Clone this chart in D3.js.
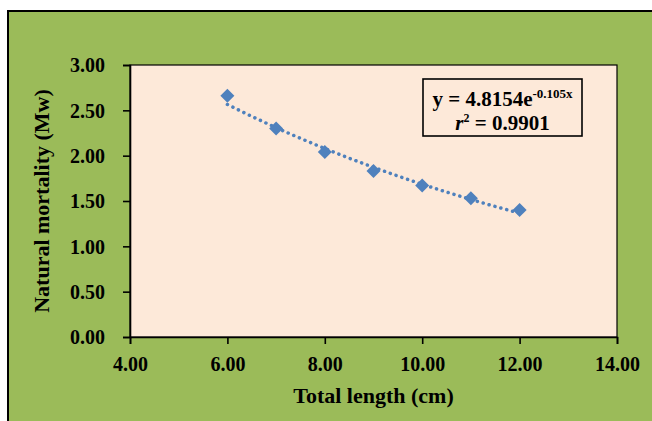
<!DOCTYPE html>
<html>
<head>
<meta charset="utf-8">
<script src="https://cdn.jsdelivr.net/npm/d3@7"></script>
<style>
  body { margin: 0; background: #fff; }
  svg text { font-family: "Liberation Serif", "Times New Roman", serif; font-weight: bold; }
</style>
</head>
<body>
<svg class="chart" width="652" height="421"></svg>
<script>
// data
var lengths = [6, 7, 8, 9, 10, 11, 12];
var mortality = [2.66, 2.30, 2.04, 1.83, 1.67, 1.53, 1.40];
var xTicks = [4, 6, 8, 10, 12, 14];
var yTicks = [0, 0.5, 1, 1.5, 2, 2.5, 3];
// fitted trend y = a * e^(b x)
var trendCoef = [4.8154, -0.105];

var svg = d3.select("svg.chart");
var margin = {top: 65, right: 35, bottom: 84, left: 130};
var width = 652 - margin.left - margin.right,
    height = 421 - margin.top - margin.bottom;

// outer panel
svg.append("rect")
  .attr("x", 8).attr("y", 11)
  .attr("width", 660).attr("height", 420)
  .attr("fill", "#9BBB59")
  .attr("stroke", "#000").attr("stroke-width", 2);

var g = svg.append("g").attr("transform", "translate(" + margin.left + "," + margin.top + ")");

var x = d3.scaleLinear().domain([4, 14]).range([0, width]);
var y = d3.scaleLinear().domain([0, 3]).range([height, 0]);

g.append("rect")
  .attr("width", width).attr("height", height)
  .attr("fill", "#FDE9D9")
  .attr("stroke", "#000").attr("stroke-width", 1.2);

// axes
var xAxis = g.append("g")
  .attr("transform", "translate(0," + height + ")")
  .call(d3.axisBottom(x).tickValues(xTicks).tickSize(7).tickPadding(11)
    .tickFormat(function(d) { return d.toFixed(2); }));
var yAxis = g.append("g")
  .call(d3.axisLeft(y).tickValues(yTicks).tickSize(7).tickPadding(18)
    .tickFormat(function(d) { return d.toFixed(2); }));

[xAxis, yAxis].forEach(function(a) {
  a.attr("font-size", null).attr("font-family", null);
  a.select(".domain").attr("stroke", "#000").attr("stroke-width", 1.6);
  a.selectAll(".tick line").attr("stroke", "#000").attr("stroke-width", 1.6);
  a.selectAll(".tick text")
    .attr("fill", "#000")
    .style("font-size", "20px");
});
xAxis.selectAll(".tick text").attr("dy", "0.8em");
yAxis.selectAll(".tick text").attr("dy", "0.34em");

// trendline
var trendX = d3.range(lengths[0], lengths[lengths.length - 1] + 0.001, 0.1);
var trend = d3.line()
  .x(function(d) { return x(d); })
  .y(function(d) { return y(trendCoef[0] * Math.exp(trendCoef[1] * d)); });

g.append("path")
  .datum(trendX)
  .attr("d", trend)
  .attr("fill", "none")
  .attr("stroke", "#4F81BD")
  .attr("stroke-width", 3.5)
  .attr("stroke-linecap", "round")
  .attr("stroke-dasharray", "0.1,6");

// markers
g.selectAll(".pt")
  .data(lengths)
  .enter().append("path")
  .attr("class", "pt")
  .attr("d", d3.symbol().type(d3.symbolDiamond2).size(125))
  .attr("transform", function(d, i) {
    return "translate(" + x(d) + "," + y(mortality[i]) + ")";
  })
  .attr("fill", "#4F81BD");

// equation box
var box = g.append("g").attr("transform", "translate(" + (423 - margin.left) + "," + (79 - margin.top) + ")");
box.append("rect")
  .attr("width", 159).attr("height", 57)
  .attr("fill", "#FDE9D9")
  .attr("stroke", "#000").attr("stroke-width", 1.6);
var eq = box.append("text")
  .attr("x", 79.5).attr("y", 27)
  .attr("text-anchor", "middle")
  .style("font-size", "21px");
eq.append("tspan").text("y = 4.8154e");
eq.append("tspan").attr("dy", -8).style("font-size", "13px").text("-0.105x");
var r2 = box.append("text")
  .attr("x", 79.5).attr("y", 51)
  .attr("text-anchor", "middle")
  .style("font-size", "21px");
r2.append("tspan").style("font-style", "italic").text("r");
r2.append("tspan").attr("dy", -8).style("font-size", "12px").text("2");
r2.append("tspan").attr("dy", 8).text(" = 0.9901");

// axis titles
svg.append("text")
  .attr("x", margin.left + width / 2).attr("y", 403)
  .attr("text-anchor", "middle")
  .style("font-size", "22px")
  .text("Total length (cm)");
svg.append("text")
  .attr("transform", "translate(49," + (margin.top + height / 2) + ") rotate(-90)")
  .attr("text-anchor", "middle")
  .style("font-size", "22px")
  .text("Natural mortality (Mw)");
</script>
</body>
</html>
